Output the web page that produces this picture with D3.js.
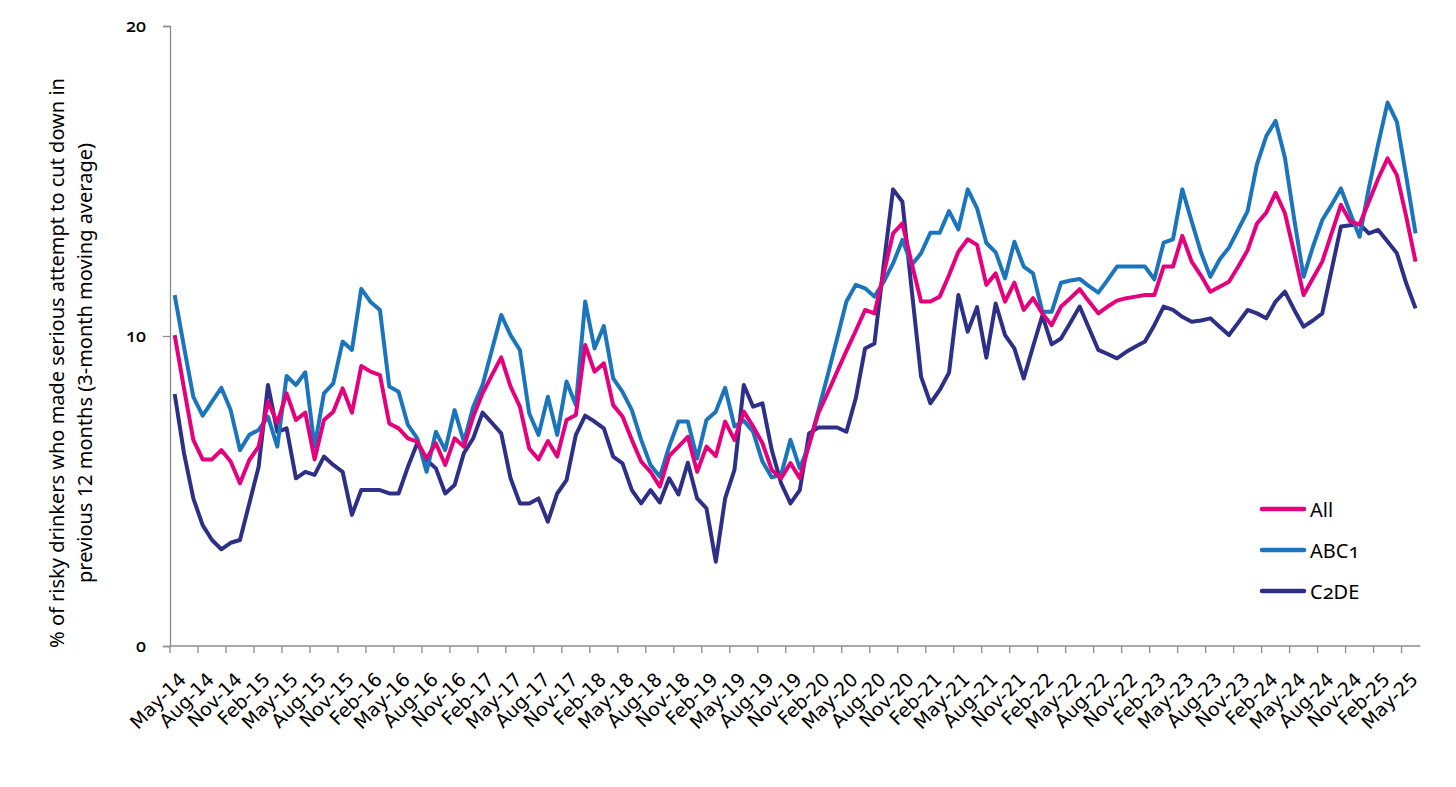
<!DOCTYPE html>
<html><head><meta charset="utf-8">
<script src="https://cdn.jsdelivr.net/npm/d3@7"></script>
<style>
html,body{margin:0;padding:0;background:#fff;}
svg{display:block;font-family:"Noto Sans","Open Sans",sans-serif;}
.num{font-variant-numeric:oldstyle-nums;font-feature-settings:"onum" 1;}
</style></head><body>
<svg id="chart" width="1456" height="787"></svg>
<script>
const tickLabels = ["May-14","Aug-14","Nov-14","Feb-15","May-15","Aug-15","Nov-15","Feb-16","May-16","Aug-16","Nov-16","Feb-17","May-17","Aug-17","Nov-17","Feb-18","May-18","Aug-18","Nov-18","Feb-19","May-19","Aug-19","Nov-19","Feb-20","May-20","Aug-20","Nov-20","Feb-21","May-21","Aug-21","Nov-21","Feb-22","May-22","Aug-22","Nov-22","Feb-23","May-23","Aug-23","Nov-23","Feb-24","May-24","Aug-24","Nov-24","Feb-25","May-25"];

const allValues = [10.03,8.31,6.65,6.02,6.02,6.32,5.95,5.25,6.0,6.43,
7.88,7.2,8.15,7.29,7.53,6.02,7.29,7.56,8.31,7.53,
9.03,8.85,8.74,7.18,7.02,6.70,6.59,6.05,6.54,5.84,
6.70,6.43,7.40,8.15,8.74,9.31,8.37,7.72,6.37,6.02,
6.61,6.11,7.29,7.45,9.71,8.85,9.12,7.77,7.40,6.65,
5.95,5.62,5.14,6.13,6.43,6.75,5.62,6.43,6.13,7.24,
6.65,7.56,7.08,6.54,5.68,5.41,5.9,5.41,6.5,7.52,
8.17,8.85,9.52,10.17,10.84,10.73,12.02,13.31,13.63,12.34,
11.11,11.11,11.27,11.97,12.72,13.12,12.94,11.65,12.02,11.11,
11.72,10.84,11.22,10.73,10.35,10.95,11.22,11.51,11.11,10.73,
10.95,11.14,11.22,11.27,11.32,11.32,12.24,12.24,13.23,12.4,
11.95,11.43,11.59,11.75,12.24,12.77,13.63,13.98,14.62,13.96,
12.67,11.32,11.86,12.40,13.31,14.23,13.69,13.6,14.33,15.08,
15.73,15.19,13.85,12.40];

const abc1Values = [11.32,9.65,8.04,7.43,7.88,8.33,7.61,6.32,6.81,6.97,
7.4,6.43,8.71,8.42,8.83,6.43,8.15,8.47,9.82,9.55,
11.52,11.1,10.84,8.37,8.20,7.13,6.70,5.62,6.91,6.32,
7.61,6.59,7.72,8.42,9.55,10.68,10.03,9.55,7.51,6.81,
8.04,6.81,8.53,7.77,11.11,9.60,10.32,8.63,8.20,7.61,
6.65,5.84,5.46,6.43,7.24,7.24,6.05,7.29,7.56,8.33,
7.08,7.27,6.91,5.95,5.44,5.52,6.65,5.73,6.5,7.6,
8.74,9.92,11.11,11.65,11.54,11.27,11.75,12.34,13.10,12.29,
12.67,13.33,13.33,14.03,13.44,14.73,14.12,13.0,12.7,11.86,
13.04,12.24,12.02,10.78,10.78,11.72,11.79,11.84,11.61,11.40,
11.81,12.24,12.24,12.24,12.24,11.83,13.01,13.12,14.73,13.7,
12.7,11.91,12.47,12.85,13.44,14.03,15.54,16.45,16.94,15.75,
13.76,11.91,12.88,13.74,14.23,14.76,13.96,13.20,14.78,16.2,
17.53,16.91,15.15,13.31];

const c2deValues = [8.13,6.22,4.76,3.90,3.42,3.12,3.33,3.42,4.60,5.78,
8.42,6.91,7.02,5.41,5.62,5.52,6.11,5.84,5.62,4.23,
5.03,5.03,5.03,4.92,4.92,5.78,6.54,6.0,5.73,4.92,
5.19,6.22,6.70,7.53,7.20,6.86,5.41,4.60,4.60,4.76,
4.01,4.92,5.35,6.81,7.43,7.24,7.02,6.11,5.89,5.03,
4.60,5.03,4.63,5.41,4.89,5.91,4.76,4.44,2.72,4.76,
5.68,8.42,7.72,7.83,6.32,5.25,4.60,5.03,6.86,7.05,
7.05,7.05,6.91,7.99,9.60,9.76,12.3,14.73,14.33,11.48,
8.69,7.83,8.26,8.82,11.32,10.14,10.93,9.3,11.05,10.03,
9.60,8.63,9.66,10.66,9.73,9.92,10.43,10.95,10.25,9.55,
9.42,9.28,9.49,9.66,9.82,10.35,10.95,10.84,10.62,10.46,
10.5,10.57,10.30,10.03,10.43,10.84,10.73,10.57,11.11,11.43,
10.84,10.30,10.5,10.73,12.13,13.53,13.57,13.61,13.31,13.42,
13.05,12.67,11.7,10.89];

const seriesNames = ["All","ABC1","C2DE"];
const seriesColors = ["#E5007E","#1A75BC","#2E3088"];
const yTicks = [0,10,20];
const yTitleLines = ["% of risky drinkers who made serious attempt to cut down in","previous 12 months (3-month moving average)"];

// month categories May-14 ... Jun-25
const monthNames = ["Jan","Feb","Mar","Apr","May","Jun","Jul","Aug","Sep","Oct","Nov","Dec"];
const categories = allValues.map((_, k) => {
  const m = (4 + k) % 12, yr = 14 + Math.floor((4 + k) / 12);
  return monthNames[m] + "-" + String(yr).padStart(2, "0");
});

const series = [allValues, abc1Values, c2deValues].map((vals, s) => ({
  name: seriesNames[s], color: seriesColors[s],
  points: vals.map((v, i) => ({cat: categories[i], v}))
}));

const svg = d3.select("#chart");
const plotLeft = 170, plotTop = 26, plotBottom = 646;
const step = 9.33;
const x = d3.scaleBand().domain(categories).range([plotLeft, plotLeft + categories.length * step]).padding(0);
const y = d3.scaleLinear().domain([0, 20]).range([plotBottom, plotTop]);
const cx = c => x(c) + x.bandwidth() / 2;
const axisColor = "#8c8c8c";

// Y axis
const yAxis = svg.append("g").attr("transform", `translate(${plotLeft},0)`)
  .call(d3.axisLeft(y).tickValues(yTicks).tickSize(7).tickPadding(17).tickFormat(d3.format("d")));
yAxis.select(".domain").attr("stroke", axisColor).attr("stroke-width", 1.3);
yAxis.selectAll(".tick line").attr("stroke", axisColor).attr("stroke-width", 1.3);
yAxis.selectAll(".tick text").attr("class", "num").attr("font-size", 18).attr("fill", "#000")
  .attr("font-weight", 500).attr("font-family", "'Noto Sans',sans-serif");

// X axis line + ticks every 3 categories (between categories)
const xg = svg.append("g");
xg.append("line").attr("x1", plotLeft).attr("x2", x.range()[1]).attr("y1", plotBottom).attr("y2", plotBottom)
  .attr("stroke", axisColor).attr("stroke-width", 1.3);
const tickCats = categories.filter((c, i) => i % 3 === 0);
xg.selectAll("line.t").data(tickCats).enter().append("line").attr("class", "t")
  .attr("x1", d => x(d)).attr("x2", d => x(d)).attr("y1", plotBottom).attr("y2", plotBottom + 7)
  .attr("stroke", axisColor).attr("stroke-width", 1.3);
const xLabels = xg.selectAll("text").data(tickLabels).enter().append("text")
  .attr("transform", d => `translate(${cx(d) + 8},${676}) rotate(-45)`)
  .attr("text-anchor", "end").attr("dy", "0.35em")
  .style("font-family", "'DejaVu Sans',sans-serif")
  .attr("font-size", 17).attr("fill", "#000")
  .text(d => d);
// size labels so "May-14" is about 70px long, as in the reference
const l0 = xLabels.node().getComputedTextLength();
xLabels.attr("font-size", 17 * 70 / l0);

// Lines
const line = d3.line().x(d => cx(d.cat)).y(d => y(d.v));
svg.append("g").selectAll("path").data(series.slice().reverse()).enter().append("path")
  .attr("d", d => line(d.points)).attr("fill", "none")
  .attr("stroke", d => d.color).attr("stroke-width", 4).attr("stroke-linejoin", "round");

// Y title
const yt = svg.append("g").attr("transform", "translate(56,363) rotate(-90)");
const t1 = yt.append("text").attr("text-anchor", "middle").attr("dominant-baseline", "central")
  .attr("font-size", 20).attr("fill", "#000").text(yTitleLines[0]);
const len = t1.node().getComputedTextLength();
const fs = 20 * 570 / len;
t1.attr("font-size", fs);
yt.append("text").attr("text-anchor", "middle").attr("dominant-baseline", "central")
  .attr("y", 28).attr("font-size", fs).attr("fill", "#000").text(yTitleLines[1]);

// Legend
const lg = svg.append("g");
const legendY = d3.scalePoint().domain(seriesNames).range([509, 591]);
series.forEach(s => {
  const yy = legendY(s.name);
  lg.append("line").attr("x1", 1262).attr("x2", 1304).attr("y1", yy).attr("y2", yy)
    .attr("stroke", s.color).attr("stroke-width", 4.5).attr("stroke-linecap", "round");
  lg.append("text").attr("x", 1310).attr("y", yy).attr("dominant-baseline", "central")
    .attr("class", "num").attr("font-size", 20).attr("fill", "#000").text(s.name);
});
</script>
</body></html>
